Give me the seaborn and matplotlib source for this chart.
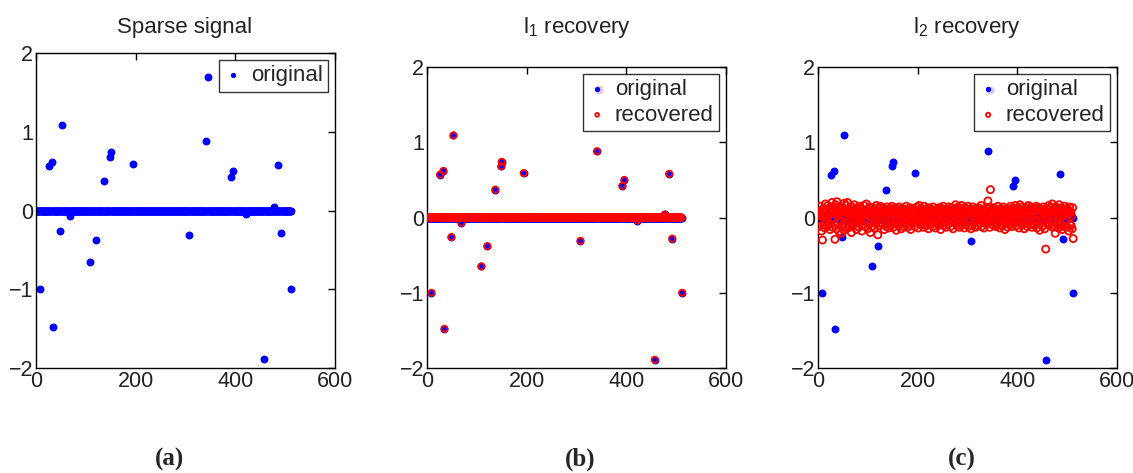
import numpy as np
import pandas as pd
import matplotlib
matplotlib.use("Agg")
import matplotlib.pyplot as plt
import seaborn as sns

# ---------------- data ----------------
N = 512
spike_idx = [8, 25, 32, 34, 48, 52, 68, 108, 120, 136, 148, 149, 193, 307,
             340, 345, 391, 395, 421, 456, 476, 485, 491, 511]
spike_val = [-1.00, 0.57, 0.62, -1.48, -0.26, 1.09, -0.07, -0.65, -0.38, 0.37,
             0.68, 0.74, 0.59, -0.31, 0.88, 1.70, 0.42, 0.50, -0.04, -1.89,
             0.04, 0.58, -0.28, -1.00]

l2_recovered = [
    0.05, -0.12, 0.08, 0.15, -0.06, 0.02, -0.18, 0.10, -0.30, 0.04, 0.12, -0.09, 0.07, -0.14, 0.18, 0.01,
    -0.05, 0.09, -0.11, 0.16, 0.03, -0.08, 0.13, -0.16, 0.06, 0.11, -0.03, 0.20, -0.13, 0.07, -0.01, 0.14,
    -0.10, -0.29, 0.17, 0.05, -0.15, 0.21, 0.02, -0.07, 0.12, -0.19, 0.08, 0.15, -0.04, 0.10, -0.21, 0.06,
    0.13, -0.09, 0.03, -0.17, 0.19, 0.07, -0.12, 0.16, 0.01, -0.06, 0.20, -0.14, 0.09, 0.04, -0.10, 0.12,
    -0.02, 0.08, -0.20, 0.14, 0.05, -0.11, 0.10, -0.05, 0.17, -0.08, 0.02, 0.11, -0.16, 0.06, 0.13, -0.03,
    0.09, -0.13, 0.04, 0.15, -0.07, 0.00, 0.12, -0.18, 0.07, 0.03, -0.10, 0.16, -0.04, 0.10, -0.12, 0.05,
    0.18, -0.06, 0.08, -0.15, 0.02, 0.11, -0.09, 0.14, -0.20, 0.06, 0.01, -0.12, 0.09, 0.13, -0.05, 0.07,
    -0.14, 0.04, 0.10, -0.08, 0.16, -0.02, 0.05, -0.23, 0.12, 0.03, -0.11, 0.08, 0.15, -0.06, 0.01, 0.10,
    -0.09, 0.13, -0.04, 0.06, -0.16, 0.11, 0.02, 0.09, -0.12, 0.14, -0.07, 0.04, 0.10, -0.14, 0.07, -0.02,
    0.12, -0.10, 0.05, 0.15, -0.05, 0.03, -0.13, 0.08, 0.11, -0.08, 0.01, 0.13, -0.17, 0.06, 0.09, -0.04,
    0.07, -0.11, 0.14, 0.02, -0.06, 0.10, -0.15, 0.04, 0.12, -0.03, 0.08, -0.12, 0.05, 0.11, -0.09, 0.03,
    0.15, -0.07, 0.06, -0.13, 0.09, 0.01, -0.10, 0.13, 0.04, -0.16, 0.10, 0.07, -0.05, 0.12, -0.08, 0.02,
    0.11, -0.12, 0.08, 0.03, -0.07, 0.14, -0.02, 0.06, -0.14, 0.09, 0.16, -0.04, 0.05, -0.10, 0.12, 0.00,
    -0.08, 0.10, 0.04, -0.13, 0.15, 0.07, -0.05, 0.11, -0.11, 0.02, 0.08, -0.06, 0.13, -0.15, 0.05, 0.09,
    -0.03, 0.12, -0.09, 0.06, 0.01, -0.12, 0.14, 0.08, -0.06, 0.03, 0.10, -0.14, 0.07, 0.02, -0.08, 0.11,
    0.05, -0.10, 0.13, -0.04, 0.09, -0.16, 0.06, 0.12, -0.07, 0.01, 0.15, -0.11, 0.04, 0.08, -0.05, 0.10,
    -0.13, 0.07, 0.02, 0.11, -0.09, 0.14, -0.03, 0.06, 0.09, -0.12, 0.04, 0.13, -0.06, 0.10, -0.15, 0.03,
    0.08, -0.05, 0.12, 0.17, -0.08, 0.05, -0.11, 0.09, 0.14, -0.02, 0.07, -0.13, 0.11, 0.03, -0.07, 0.16,
    -0.10, 0.06, 0.10, -0.04, 0.13, -0.14, 0.02, 0.08, -0.09, 0.12, 0.05, -0.06, 0.15, -0.12, 0.04, 0.09,
    -0.05, 0.11, -0.15, 0.07, 0.03, -0.10, 0.14, 0.01, -0.07, 0.10, 0.06, -0.13, 0.12, -0.03, 0.08, 0.04,
    -0.11, 0.13, 0.05, -0.08, 0.09, -0.02, 0.16, -0.12, 0.07, 0.02, -0.06, 0.11, -0.14, 0.04, 0.10, -0.04,
    0.08, -0.09, 0.12, 0.03, 0.22, -0.07, 0.06, 0.14, -0.13, 0.37, 0.09, -0.05, 0.11, 0.02, -0.10, 0.07,
    0.13, -0.06, 0.04, 0.10, -0.12, 0.08, 0.01, -0.09, 0.15, 0.05, -0.03, 0.11, -0.14, 0.07, 0.12, -0.02,
    0.06, -0.11, 0.09, 0.14, -0.05, 0.03, -0.16, 0.10, 0.07, -0.08, 0.12, 0.00, -0.13, 0.08, 0.05, -0.06,
    0.11, 0.15, -0.09, 0.04, 0.08, -0.12, 0.13, -0.03, 0.06, 0.10, -0.07, 0.16, 0.02, -0.11, 0.09, 0.05,
    -0.04, 0.12, -0.14, 0.07, 0.17, -0.06, 0.03, 0.10, -0.10, 0.14, 0.06, -0.02, 0.11, -0.15, 0.08, 0.04,
    -0.08, 0.13, 0.05, -0.12, 0.09, 0.16, -0.05, 0.02, 0.11, -0.09, 0.07, 0.14, -0.13, 0.04, 0.10, -0.03,
    0.06, -0.10, 0.12, 0.08, -0.06, 0.15, -0.14, 0.03, 0.09, -0.08, 0.13, 0.05, -0.17, 0.11, 0.01, -0.05,
    0.10, -0.12, 0.07, 0.14, -0.04, 0.09, -0.15, 0.06, -0.42, 0.12, -0.07, 0.03, 0.11, -0.10, 0.16, 0.04,
    -0.09, 0.08, 0.13, -0.06, 0.02, 0.18, -0.13, 0.07, -0.02, 0.10, -0.11, -0.21, 0.14, 0.05, -0.08, 0.12,
    0.03, -0.14, 0.09, 0.17, -0.05, 0.06, -0.10, 0.13, 0.01, -0.16, 0.11, 0.07, -0.12, 0.04, 0.15, -0.07,
    0.09, -0.03, 0.12, -0.13, 0.06, 0.10, -0.18, 0.04, 0.14, -0.09, 0.08, -0.11, 0.02, -0.15, 0.13, -0.28,
]

titles = ["Sparse signal", r"l$_{1}$ recovery", r"l$_{2}$ recovery"]
panel_labels = ["(a)", "(b)", "(c)"]
x_ticks = [0, 200, 400, 600]
y_ticks = [-2, -1, 0, 1, 2]

# ---------------- build tables ----------------
original = np.zeros(N)
original[spike_idx] = spike_val
l1_recovered = original.copy()
idx = np.arange(1, N + 1)
df = pd.DataFrame({"n": idx, "original": original,
                   "l1": l1_recovered, "l2": l2_recovered})

# ---------------- style ----------------
sns.set_theme(style="white")
plt.rcParams["font.family"] = ["Liberation Sans", "DejaVu Sans"]
plt.rcParams["mathtext.fontset"] = "custom"
plt.rcParams["mathtext.rm"] = "Liberation Sans"
plt.rcParams["mathtext.it"] = "Liberation Sans"
plt.rcParams["mathtext.bf"] = "Liberation Sans"
plt.rcParams["axes.edgecolor"] = "black"
plt.rcParams["axes.linewidth"] = 1.0

W, H = 1133, 473
fig = plt.figure(figsize=(W / 100, H / 100), dpi=100)
fig.patch.set_facecolor("white")

boxes = [
    (36, 53, 335, 368),
    (427, 67, 726, 368),
    (818, 67, 1117, 368),
]
label_x = [169, 580, 962]
title_x = [185, 577, 967]

blue = "#0000ff"
red = "#ff0000"

for k, (l, t, r, b) in enumerate(boxes):
    ax = fig.add_axes([l / W, 1 - b / H, (r - l) / W, (b - t) / H])
    sns.scatterplot(data=df, x="n", y="original", ax=ax, marker="o",
                    s=22, color=blue, edgecolor=blue, linewidth=1.0,
                    label="original", zorder=2)
    if k == 1:
        sns.scatterplot(data=df, x="n", y="l1", ax=ax, marker="o", s=20,
                        facecolor="none", edgecolor=red, linewidth=1.3,
                        label="recovered", zorder=3)
    elif k == 2:
        sns.scatterplot(data=df, x="n", y="l2", ax=ax, marker="o", s=26,
                        facecolor="none", edgecolor=red, linewidth=1.3,
                        label="recovered", zorder=3)
    ax.set_xlim(0, 600)
    ax.set_ylim(-2, 2)
    ax.set_xticks(x_ticks)
    ax.set_yticks(y_ticks)
    ax.set_yticklabels(["\u22122", "\u22121", "0", "1", "2"])
    ax.set_xlabel("")
    ax.set_ylabel("")
    ax.tick_params(direction="in", length=5, width=1, top=True, right=True,
                   labelsize=15.5, pad=2, colors="black", labelcolor="#222222")
    for sp in ax.spines.values():
        sp.set_visible(True)
        sp.set_color("black")
    fig.text(title_x[k] / W, 1 - 27 / H, titles[k], ha="center", va="center",
             fontsize=16, color="#222222")
    leg = ax.legend(loc="upper right", fontsize=16, frameon=True, fancybox=False,
                    edgecolor="black", handlelength=0.8, handletextpad=0.4,
                    borderpad=0.25, borderaxespad=0.3, labelspacing=0.2,
                    markerscale=0.6)
    leg.get_frame().set_linewidth(1.0)
    fig.text(label_x[k] / W, 1 - 459 / H, panel_labels[k], ha="center", va="center",
             fontsize=18, fontweight="bold", family=["Liberation Serif", "DejaVu Serif"])

fig.savefig("out.png", dpi=100, facecolor="white")
